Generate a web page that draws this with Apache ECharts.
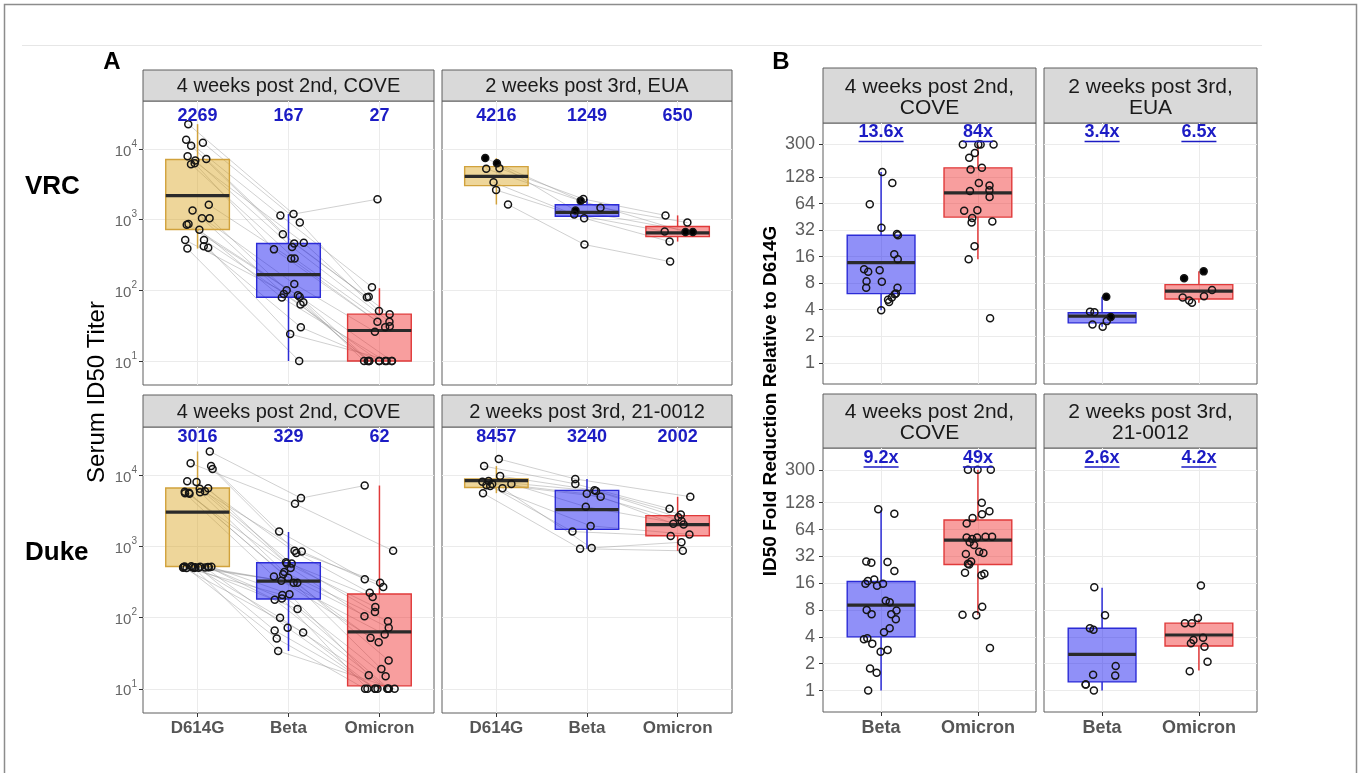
<!DOCTYPE html>
<html><head><meta charset="utf-8">
<script src="https://cdn.jsdelivr.net/npm/echarts@6/dist/echarts.min.js"></script>
<style>html,body{margin:0;padding:0;background:#fff}#c{width:1363px;height:773px}</style>
</head><body><div id="c"></div>
<script>
// ================= DATA =================
// Panel A : serum ID50 titers (subjects paired by index)
const A_CATEGORIES = ['D614G', 'Beta', 'Omicron'];
const A_Y_TICK_EXPONENTS = [1, 2, 3, 4];
const A_STRIPS = ['4 weeks post 2nd, COVE', '2 weeks post 3rd, EUA', '4 weeks post 2nd, COVE', '2 weeks post 3rd, 21-0012'];
const A_ROWS = ['VRC', 'Duke'];

const vrcCove_D614G = [22500, 13500, 12300, 11100, 7900, 7200, 6900, 6300, 6100, 1630, 1350, 1050, 1050, 870, 850, 720, 515, 515, 420, 400, 390];
const vrcCove_Beta = [1200, 1150, 915, 620, 470, 460, 410, 380, 282, 282, 123, 100, 89, 85, 81, 79, 68, 63, 30, 24, 10];
const vrcCove_Omicron = [1950, 111, 81, 80, 51, 46, 36, 36, 31, 30, 26, 10, 10, 10, 10, 10, 10, 10, 10, 10, 10];
const vrcCoveBoxes = [[390, 725, 2190, 7100, 22500], [10, 80, 167, 460, 1200], [10, 10, 27, 46, 107]];
const vrcCoveLabels = [2269, 167, 27];

const vrcEua_D614G = [7450, 6300, 5350, 5250, 3380, 2630, 1640];
const vrcEua_Beta = [1860, 1350, 1960, 1480, 1180, 1050, 445];
const vrcEua_Omicron = [670, 670, 1150, 910, 680, 490, 255];
const vrcEua_filled = [1, 1, 0, 0, 0, 0, 0];
const vrcEuaBoxes = [[1640, 3030, 4100, 5630, 7450], [1050, 1120, 1270, 1630, 1960], [490, 575, 650, 800, 1150]];
const vrcEuaLabels = [4216, 1249, 650];

const dukeCove_D614G = [21700, 14800, 13500, 12300, 8300, 8100, 6600, 6500, 6000, 5900, 5800, 5700, 5600, 5500, 530, 525, 520, 518, 515, 515, 512, 510, 510, 508, 505, 505, 500, 500];
const dukeCove_Beta = [4790, 3980, 1620, 870, 850, 813, 603, 575, 575, 501, 437, 407, 380, 363, 331, 309, 309, 214, 209, 186, 178, 132, 100, 72, 66, 62, 51, 34];
const dukeCove_Omicron = [7200, 870, 347, 309, 269, 224, 195, 141, 120, 105, 89, 72, 58, 52, 45, 25, 19, 15.5, 15, 10, 10, 10, 10, 10, 10, 10, 10, 10];
const dukeCoveBoxes = [[500, 523, 3050, 6650, 21700], [34, 183, 326, 590, 1600], [10, 11, 63, 215, 7200]];
const dukeCoveLabels = [3016, 329, 62];

const duke12_D614G = [17000, 13500, 9770, 8320, 8130, 7590, 7590, 7240, 7080, 6610, 5620];
const duke12_Beta = [8900, 7590, 6170, 6030, 5500, 5000, 3630, 1950, 1620, 955, 933];
const duke12_Omicron = [5010, 3390, 2820, 2570, 2290, 2090, 2040, 1480, 1410, 1150, 870];
const duke12Boxes = [[5620, 6760, 8420, 8900, 13500], [933, 1740, 3300, 6150, 8900], [870, 1420, 2030, 2720, 5000]];
const duke12Labels = [8457, 3240, 2002];

// Panel B : fold reduction relative to D614G
const B_CATEGORIES = ['Beta', 'Omicron'];
const B_Y_TICKS = [1, 2, 4, 8, 16, 32, 64, 128, 300];
const B_STRIPS = ['4 weeks post 2nd,\nCOVE', '2 weeks post 3rd,\nEUA', '4 weeks post 2nd,\nCOVE', '2 weeks post 3rd,\n21-0012'];

const foldVrcCove_Beta = [146, 110, 63, 34, 29, 28, 17, 15, 11.5, 11.2, 10.8, 8.4, 8.3, 7.1, 7.1, 6.1, 6.0, 5.5, 5.2, 4.9, 3.95];
const foldVrcCove_Omicron = [300, 300, 300, 300, 241, 212, 163, 156, 110, 103, 91, 89, 76, 54, 53, 44, 40, 39, 21, 15, 3.2];
const foldVrcCoveBoxes = [[3.95, 6.1, 13.7, 28, 146], [15, 45, 85, 163, 300]];
const foldVrcCoveLabels = [13.6, 84];

const foldVrcEua_Beta = [5.6, 3.8, 3.75, 3.3, 2.97, 2.72, 2.56];
const foldVrcEua_Beta_filled = [1, 0, 0, 1, 0, 0, 0];
const foldVrcEua_Omicron = [10.9, 9.1, 6.7, 5.7, 5.5, 5.1, 4.8];
const foldVrcEua_Omicron_filled = [1, 1, 0, 0, 0, 0, 0];
const foldVrcEuaBoxes = [[2.56, 2.84, 3.38, 3.7, 5.6], [4.8, 5.3, 6.5, 7.7, 10.9]];
const foldVrcEuaLabels = [3.4, 6.5];

const foldDukeCove_Beta = [108, 96, 28.1, 27.7, 27.1, 21.9, 17.6, 16.9, 15.8, 15.8, 15, 10.2, 9.8, 8, 7.9, 7.2, 7.2, 6.3, 5.0, 4.5, 3.86, 3.76, 3.36, 2.85, 2.73, 1.77, 1.58, 1.0];
const foldDukeCove_Omicron = [300, 300, 300, 128, 103, 95, 86, 75, 53, 53, 52, 52, 50, 46, 43, 36, 35, 34, 28, 26.5, 26, 21, 20.4, 19.6, 8.7, 7.1, 7.0, 3.0];
const foldDukeCoveBoxes = [[1, 4.0, 9.1, 16.7, 106], [7.1, 26, 48.6, 82, 300]];
const foldDukeCoveLabels = [9.2, 49];

const fold12_Beta = [14.4, 7.0, 5.0, 4.8, 1.88, 1.5, 1.47, 1.17, 1.17, 1.0];
const fold12_Omicron = [15.1, 6.5, 5.7, 5.7, 3.9, 3.7, 3.4, 3.1, 2.1, 1.65];
const fold12Boxes = [[1, 1.25, 2.55, 5.0, 14.2], [1.68, 3.16, 4.2, 5.7, 6.3]];
const fold12Labels = [2.6, 4.2];

// ================= STYLE / LAYOUT =================
const FONT = '"Liberation Sans", Arial, Helvetica, sans-serif';
const BORDER = '#5e5e5e';
const GRID_LINE = '#ebebeb';
const TICK_TEXT = '#555555';
const BLUE_TEXT = '#1c1cc4';
const VARIANT_STYLE = [
  { fill: 'rgba(218,165,32,0.45)', line: '#d1a23c' },
  { fill: 'rgba(20,20,240,0.47)', line: '#2b2bd6' },
  { fill: 'rgba(240,40,40,0.45)', line: '#e03a3a' }
];
const A_Y_MIN = 0.66, A_Y_MAX = 4.68;
const B_Y_MIN = -0.8, B_Y_MAX = 9.04;
// [left, top, width, height, stripTop]
const A_LAYOUT = [[143, 101, 291, 284, 70], [442, 101, 290, 284, 70], [143, 427, 291, 286, 395], [442, 427, 290, 286, 395]];
const B_LAYOUT = [[823, 123, 213, 261, 68], [1044, 123, 213, 261, 68], [823, 448, 213, 264, 394], [1044, 448, 213, 264, 394]];
const A_LABEL_OFF = [15, 10];
const B_LABEL_OFF = [9.5, 10];

const lg = v => Math.log10(v);
const lg2 = v => Math.log2(v);

function seededJitter(seed, n, width) {
  let s = seed >>> 0; const out = [];
  for (let i = 0; i < n; i++) {
    s = (Math.imul(s, 1664525) + 1013904223) >>> 0;
    s = (Math.imul(s ^ (s >>> 15), 2246822519) + 3266489917) >>> 0;
    out.push((s / 4294967296 - 0.5) * 2 * width);
  }
  return out;
}

const mctx = document.createElement('canvas').getContext('2d');
function textWidth(t, font) { mctx.font = font; return mctx.measureText(t).width; }

function renderPair(params, api) {
  const pts = [
    api.coord([api.value(0), api.value(1)]),
    api.coord([api.value(2), api.value(3)]),
    api.coord([api.value(4), api.value(5)])
  ];
  return { type: 'polyline', shape: { points: pts }, style: { stroke: 'rgba(150,150,150,0.5)', lineWidth: 0.9, fill: null } };
}

const BOX_W = 0.7;
function renderBox(params, api) {
  const x = api.value(0);
  const lo = api.coord([x, api.value(1)]), q1 = api.coord([x, api.value(2)]), md = api.coord([x, api.value(3)]),
        q3 = api.coord([x, api.value(4)]), hi = api.coord([x, api.value(5)]);
  const w = api.size([BOX_W, 0])[0];
  const st = VARIANT_STYLE[api.value(6)];
  return { type: 'group', children: [
    { type: 'line', shape: { x1: lo[0], y1: lo[1], x2: q1[0], y2: q1[1] }, style: { stroke: st.line, lineWidth: 1.5 } },
    { type: 'line', shape: { x1: q3[0], y1: q3[1], x2: hi[0], y2: hi[1] }, style: { stroke: st.line, lineWidth: 1.5 } },
    { type: 'rect', shape: { x: q3[0] - w / 2, y: q3[1], width: w, height: Math.max(q1[1] - q3[1], 0.5) }, style: { fill: st.fill, stroke: st.line, lineWidth: 1.4 } },
    { type: 'line', shape: { x1: md[0] - w / 2, y1: md[1], x2: md[0] + w / 2, y2: md[1] }, style: { stroke: '#2a2a2a', lineWidth: 3.2 } }
  ] };
}

function makeLabelRenderer(fmt, font, off, underline) {
  return function (params, api) {
    const top = api.coord([api.value(0), api.value(1)]);
    const t = fmt(api.value(2));
    const y = top[1] + off;
    const children = [{ type: 'text', x: top[0], y: y, style: { text: t, fill: BLUE_TEXT, font: font, align: 'center', verticalAlign: 'middle' } }];
    if (underline) {
      const w = textWidth(t, font);
      children.push({ type: 'line', shape: { x1: top[0] - w / 2, y1: y + 9, x2: top[0] + w / 2, y2: y + 9 }, style: { stroke: BLUE_TEXT, lineWidth: 1.6 } });
    }
    return { type: 'group', children };
  };
}

const grids = [], xAxes = [], yAxes = [], series = [];

function addAxes(idx, xmin, xmax, xTicks, xFmt, showX, xFont, ymin, ymax, yTicks, yFmt, showY, yLabelExtra) {
  xAxes.push({
    type: 'value', gridIndex: idx, min: xmin, max: xmax, position: 'bottom',
    axisLine: { show: false, onZero: false },
    axisTick: { show: showX, customValues: xTicks, length: 4, lineStyle: { color: '#333', width: 1 } },
    axisLabel: { show: showX, customValues: xTicks, formatter: xFmt, margin: 7, color: TICK_TEXT, fontFamily: FONT, fontSize: xFont, fontWeight: 'bold' },
    splitLine: { show: true, lineStyle: { color: GRID_LINE, width: 1 } }
  });
  yAxes.push({
    type: 'value', gridIndex: idx, min: ymin, max: ymax, position: 'left',
    axisLine: { show: false, onZero: false },
    axisTick: { show: showY, customValues: yTicks, length: 4, lineStyle: { color: '#333', width: 1 } },
    splitLine: { show: true, lineStyle: { color: GRID_LINE, width: 1 } },
    axisLabel: Object.assign({ show: showY, customValues: yTicks, formatter: yFmt, color: TICK_TEXT, fontFamily: FONT }, yLabelExtra)
  });
}

function pointSeries(idx, groups, jit, filled, tf, xOf) {
  const data = [];
  groups.forEach((g, gi) => g.forEach((v, i) => {
    const val = [xOf(gi) + jit[gi][i], tf(v)];
    const f = filled && filled[gi] && filled[gi][i];
    data.push(f ? { value: val, itemStyle: { color: '#000' } } : val);
  }));
  return {
    type: 'scatter', xAxisIndex: idx, yAxisIndex: idx, z: 3, silent: true, symbol: 'circle', symbolSize: 7,
    itemStyle: { color: 'rgba(0,0,0,0)', borderColor: '#151515', borderWidth: 1.5, opacity: 1 }, data
  };
}

// ----- Panel A -----
const A_PANELS = [
  { groups: [vrcCove_D614G, vrcCove_Beta, vrcCove_Omicron], filled: null, boxes: vrcCoveBoxes, labels: vrcCoveLabels },
  { groups: [vrcEua_D614G, vrcEua_Beta, vrcEua_Omicron], filled: [vrcEua_filled, vrcEua_filled, vrcEua_filled], boxes: vrcEuaBoxes, labels: vrcEuaLabels },
  { groups: [dukeCove_D614G, dukeCove_Beta, dukeCove_Omicron], filled: null, boxes: dukeCoveBoxes, labels: dukeCoveLabels },
  { groups: [duke12_D614G, duke12_Beta, duke12_Omicron], filled: null, boxes: duke12Boxes, labels: duke12Labels }
];
A_PANELS.forEach((p, k) => {
  const [l, t, w, h] = A_LAYOUT[k];
  const idx = grids.length, row = k >> 1;
  grids.push({ left: l, top: t, width: w, height: h, show: true, borderColor: BORDER, borderWidth: 1, backgroundColor: '#fff', containLabel: false, outerBoundsMode: 'none' });
  addAxes(idx, 0.4, 3.6, [1, 2, 3], v => A_CATEGORIES[Math.round(v) - 1], row === 1, 17,
    A_Y_MIN, A_Y_MAX, A_Y_TICK_EXPONENTS, v => '{b|10}{s|' + Math.round(v) + '}', k % 2 === 0,
    { margin: 6, rich: {
      b: { fontSize: 15, color: '#666', fontFamily: FONT, padding: [5, 0, 0, 0], verticalAlign: 'bottom' },
      s: { fontSize: 10, color: '#666', fontFamily: FONT, verticalAlign: 'top' } } });
  const jit = p.groups.map((g, gi) => seededJitter(1009 * k + 131 * gi + 17, g.length, 0.17));
  const lineData = p.groups[0].map((v, i) => [1 + jit[0][i], lg(p.groups[0][i]), 2 + jit[1][i], lg(p.groups[1][i]), 3 + jit[2][i], lg(p.groups[2][i])]);
  series.push({ type: 'custom', xAxisIndex: idx, yAxisIndex: idx, z: 1, silent: true, renderItem: renderPair, encode: { x: [0, 2, 4], y: [1, 3, 5] }, data: lineData });
  series.push({ type: 'custom', xAxisIndex: idx, yAxisIndex: idx, z: 2, silent: true, renderItem: renderBox, encode: { x: 0, y: [1, 2, 3, 4, 5] },
    data: p.boxes.map((b, gi) => [gi + 1].concat(b.map(lg), [gi])) });
  series.push(pointSeries(idx, p.groups, jit, p.filled, lg, gi => gi + 1));
  series.push({ type: 'custom', xAxisIndex: idx, yAxisIndex: idx, z: 4, silent: true,
    renderItem: makeLabelRenderer(v => String(v), 'bold 18px ' + FONT, A_LABEL_OFF[row], false),
    encode: { x: 0, y: 1 }, data: p.labels.map((v, gi) => [gi + 1, A_Y_MAX, v]) });
});

// ----- Panel B -----
const B_PANELS = [
  { groups: [foldVrcCove_Beta, foldVrcCove_Omicron], filled: null, boxes: foldVrcCoveBoxes, labels: foldVrcCoveLabels },
  { groups: [foldVrcEua_Beta, foldVrcEua_Omicron], filled: [foldVrcEua_Beta_filled, foldVrcEua_Omicron_filled], boxes: foldVrcEuaBoxes, labels: foldVrcEuaLabels },
  { groups: [foldDukeCove_Beta, foldDukeCove_Omicron], filled: null, boxes: foldDukeCoveBoxes, labels: foldDukeCoveLabels },
  { groups: [fold12_Beta, fold12_Omicron], filled: null, boxes: fold12Boxes, labels: fold12Labels }
];
B_PANELS.forEach((p, k) => {
  const [l, t, w, h] = B_LAYOUT[k];
  const idx = grids.length, row = k >> 1;
  grids.push({ left: l, top: t, width: w, height: h, show: true, borderColor: BORDER, borderWidth: 1, backgroundColor: '#fff', containLabel: false, outerBoundsMode: 'none' });
  addAxes(idx, 0.4, 2.6, [1, 2], v => B_CATEGORIES[Math.round(v) - 1], row === 1, 18,
    B_Y_MIN, B_Y_MAX, B_Y_TICKS.map(lg2), v => String(Math.round(Math.pow(2, v))), k % 2 === 0,
    { margin: 8, fontSize: 18, color: '#5e5e5e' });
  const jit = p.groups.map((g, gi) => seededJitter(7919 * (k + 3) + 577 * gi + 5, g.length, 0.18));
  series.push({ type: 'custom', xAxisIndex: idx, yAxisIndex: idx, z: 2, silent: true, renderItem: renderBox, encode: { x: 0, y: [1, 2, 3, 4, 5] },
    data: p.boxes.map((b, gi) => [gi + 1].concat(b.map(lg2), [gi + 1])) });
  series.push(pointSeries(idx, p.groups, jit, p.filled, lg2, gi => gi + 1));
  series.push({ type: 'custom', xAxisIndex: idx, yAxisIndex: idx, z: 4, silent: true,
    renderItem: makeLabelRenderer(v => v + 'x', 'bold 18px ' + FONT, B_LABEL_OFF[row], true),
    encode: { x: 0, y: 1 }, data: p.labels.map((v, gi) => [gi + 1, B_Y_MAX, v]) });
});

// ----- graphics: frame, strips, titles -----
const graphics = [
  { type: 'rect', silent: true, shape: { x: 4.5, y: 4.5, width: 1352, height: 800 }, style: { fill: 'none', stroke: '#8c8c8c', lineWidth: 1.5 } },
  { type: 'line', silent: true, shape: { x1: 22, y1: 45.5, x2: 1262, y2: 45.5 }, style: { stroke: '#e6e6e6', lineWidth: 1 } },
  { type: 'text', x: 112, y: 62, style: { text: 'A', font: 'bold 24px ' + FONT, fill: '#000', align: 'center', verticalAlign: 'middle' } },
  { type: 'text', x: 781, y: 62, style: { text: 'B', font: 'bold 24px ' + FONT, fill: '#000', align: 'center', verticalAlign: 'middle' } },
  { type: 'text', x: 25, y: 187, style: { text: A_ROWS[0], font: 'bold 26px ' + FONT, fill: '#000', align: 'left', verticalAlign: 'middle' } },
  { type: 'text', x: 25, y: 553, style: { text: A_ROWS[1], font: 'bold 26px ' + FONT, fill: '#000', align: 'left', verticalAlign: 'middle' } },
  { type: 'text', x: 97, y: 392, rotation: Math.PI / 2, style: { text: 'Serum ID50 Titer', font: '500 24px ' + FONT, fill: '#000', align: 'center', verticalAlign: 'middle' } },
  { type: 'text', x: 771, y: 401, rotation: Math.PI / 2, style: { text: 'ID50 Fold Reduction Relative to D614G', font: 'bold 19px ' + FONT, fill: '#000', align: 'center', verticalAlign: 'middle' } }
];
A_LAYOUT.forEach(([l, t, w, h, st], k) => {
  graphics.push({ type: 'rect', silent: true, shape: { x: l, y: st, width: w, height: t - st }, style: { fill: '#d9d9d9', stroke: BORDER, lineWidth: 1 } });
  graphics.push({ type: 'text', x: l + w / 2, y: (st + t) / 2 + 1, style: { text: A_STRIPS[k], font: '20px ' + FONT, fill: '#1a1a1a', align: 'center', verticalAlign: 'middle' } });
});
B_LAYOUT.forEach(([l, t, w, h, st], k) => {
  graphics.push({ type: 'rect', silent: true, shape: { x: l, y: st, width: w, height: t - st }, style: { fill: '#d9d9d9', stroke: BORDER, lineWidth: 1 } });
  graphics.push({ type: 'text', x: l + w / 2, y: (st + t) / 2 + 2, style: { text: B_STRIPS[k], font: '21px ' + FONT, lineHeight: 21, fill: '#1a1a1a', align: 'center', verticalAlign: 'middle' } });
});

const chart = echarts.init(document.getElementById('c'), null, { renderer: 'canvas', width: 1363, height: 773 });
chart.setOption({
  backgroundColor: '#fff',
  animation: false,
  grid: grids, xAxis: xAxes, yAxis: yAxes, series: series,
  graphic: { elements: graphics }
});
</script></body></html>
